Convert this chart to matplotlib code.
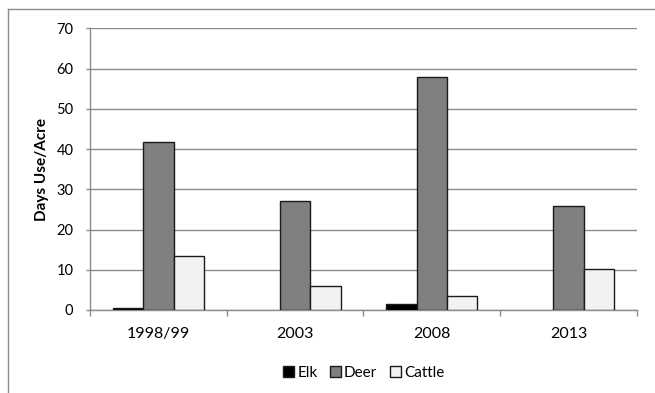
import numpy as np
import matplotlib
matplotlib.use("Agg")
import matplotlib.pyplot as plt
from matplotlib.lines import Line2D

plt.rcParams['font.family'] = ['Lato', 'DejaVu Sans']

years = ['1998/99', '2003', '2008', '2013']
elk = [0.4, 0.0, 1.5, 0.0]
deer = [41.8, 27.0, 57.9, 25.9]
cattle = [13.5, 6.0, 3.4, 10.1]

series = [('Elk', elk, '#000000'),
          ('Deer', deer, '#808080'),
          ('Cattle', cattle, '#f2f2f2')]

fig = plt.figure(figsize=(6.55, 3.93), dpi=100)
ax = fig.add_axes([0.1374, 0.2112, 0.8351, 0.7168])

x = np.arange(len(years))
width = 1 / 4.5
for i, (name, vals, color) in enumerate(series):
    # zero-height bars get no outline, so nothing shows on the baseline
    lw = [1.0 if v > 0 else 0 for v in vals]
    ax.bar(x + (i - 1) * width, vals, width, color=color,
           edgecolor='#1a1a1a', linewidth=lw, label=name, zorder=3)

ax.set_xlim(-0.5, len(years) - 0.5)
ax.set_ylim(0, 70)
ax.set_yticks(np.arange(0, 71, 10))
ax.yaxis.grid(True, color='#8c8c8c', linewidth=1.0, zorder=0)

ax.set_xticks(x)
ax.set_xticklabels(years)
ax.set_xticks(np.arange(-0.5, len(years)), minor=True)
ax.tick_params(axis='x', which='major', length=0, pad=12, labelsize=11.5)
ax.tick_params(axis='x', which='minor', length=4, color='#8c8c8c', width=1.0)
ax.tick_params(axis='y', length=3, color='#8c8c8c', width=1.0, labelsize=10.5, pad=9)

for side in ['top', 'right']:
    ax.spines[side].set_visible(False)
for side in ['left', 'bottom']:
    ax.spines[side].set_color('#8c8c8c')
    ax.spines[side].set_linewidth(1.0)

ax.set_ylabel('Days Use/Acre', fontsize=11, fontweight='bold')
ax.yaxis.set_label_coords(-0.075, 0.5)

leg = ax.legend(loc='center', bbox_to_anchor=(0.5, -0.222), ncol=3, frameon=False,
                fontsize=11, handlelength=0.75, handleheight=0.75, handletextpad=0.2,
                columnspacing=0.8)
for h in leg.legend_handles:
    h.set_linewidth(1.0)
    h.set_edgecolor('#1a1a1a')

# chart frame (left and top edges)
fig.add_artist(Line2D([8 / 655, 8 / 655], [0, 1 - 9 / 393], color='#8c8c8c',
                      linewidth=1.0, transform=fig.transFigure))
fig.add_artist(Line2D([8 / 655, 1], [1 - 9 / 393, 1 - 9 / 393], color='#8c8c8c',
                      linewidth=1.0, transform=fig.transFigure))

fig.savefig('out.png', dpi=100, facecolor='white')
